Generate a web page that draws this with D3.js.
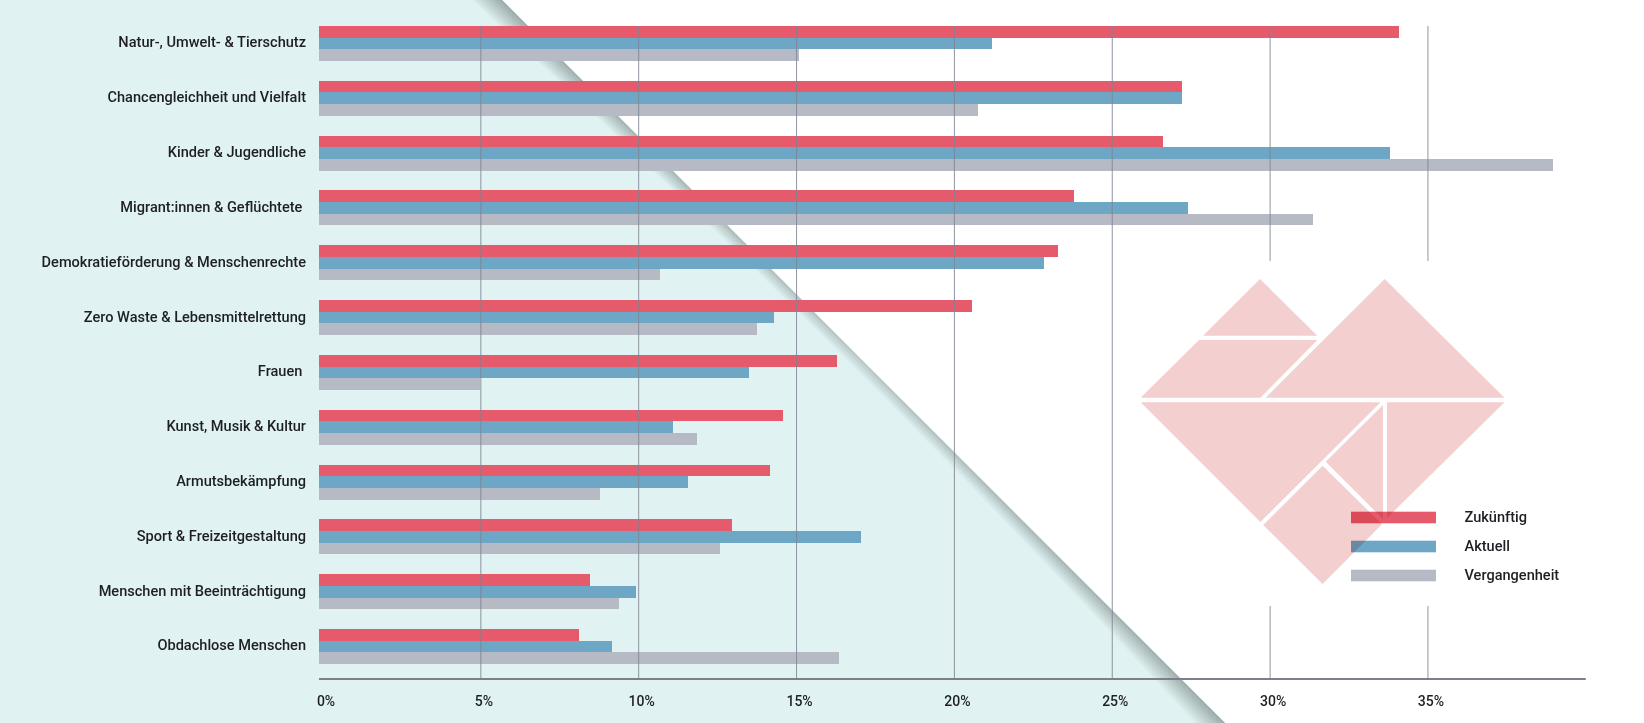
<!DOCTYPE html>
<html>
<head>
<meta charset="utf-8">
<script src="https://cdn.jsdelivr.net/npm/d3@7"></script>
<style>
    html, body { margin: 0; padding: 0; background: #fff; }
    svg { display: block; }
    text { font-family: Roboto, sans-serif; font-weight: 500; fill: #1e1e24; white-space: pre; }
</style>
</head>
<body>
<div id="chart"></div>
<script>
var categories = ["Natur-, Umwelt- & Tierschutz", "Chancengleichheit und Vielfalt", "Kinder & Jugendliche",
    "Migrant:innen & Geflüchtete ", "Demokratieförderung & Menschenrechte", "Zero Waste & Lebensmittelrettung",
    "Frauen ", "Kunst, Musik & Kultur", "Armutsbekämpfung", "Sport & Freizeitgestaltung",
    "Menschen mit Beeinträchtigung", "Obdachlose Menschen"];
var zukuenftig = [34.07, 27.2, 26.6, 23.78, 23.28, 20.56, 16.28, 14.58, 14.15, 12.95, 8.45, 8.1];
var aktuell = [21.19, 27.2, 33.8, 27.4, 22.85, 14.28, 13.48, 11.08, 11.56, 17.04, 9.93, 9.15];
var vergangenheit = [15.09, 20.75, 38.95, 31.35, 10.67, 13.75, 4.98, 11.86, 8.78, 12.59, 9.37, 16.34];
var seriesNames = ["Zukünftig", "Aktuell", "Vergangenheit"];
var seriesColors = ["#e55b6b", "#6ea7c6", "#b6bac4"];
var xTicks = [0, 5, 10, 15, 20, 25, 30, 35];

// tangram heart in the background, page pixels
var heartPieces = [
    [[1260, 279], [1203, 335.7], [1317.4, 335.7]],
    [[1199, 340], [1317.4, 340], [1260.4, 397.7], [1140.6, 397.7]],
    [[1384.7, 279], [1504.5, 397.7], [1265.6, 397.7]],
    [[1140.6, 402.3], [1380.6, 402.3], [1260.4, 522]],
    [[1383, 405], [1383, 519], [1325.7, 461.7]],
    [[1387, 402.3], [1504.5, 402.3], [1387, 518]],
    [[1322.6, 465.7], [1382, 524.3], [1322.6, 584], [1263.2, 525]]
];

var width = 1644, height = 723;
var axisY = 679, gridTop = 26;
var barLeft = 319; // bars and axis line start a bit left of the 0% position
var labelSize = 15.5, labelSqueeze = 0.94; // the original font is narrower than Roboto

var svg = d3.select("#chart").append("svg")
    .attr("width", width)
    .attr("height", height);

var x = d3.scaleLinear().domain([0, 40]).range([323, 1585.8]);
var y = d3.scaleBand().domain(categories).range([26, 664]).paddingInner(0.3615);
var ySeries = d3.scaleBand().domain(seriesNames).range([0, y.bandwidth()]);

// folded page: teal part with the shadow along the diagonal
var foldTop = 502, foldBottom = 1225;
svg.append("polygon")
    .attr("points", [[0, 0], [foldTop, 0], [foldBottom, height], [0, height]].join(" "))
    .attr("fill", "#e0f3f2");

// shadow is stronger at both ends of the fold than in the middle
var shadowGradient = svg.append("defs").append("linearGradient")
    .attr("id", "foldShadow")
    .attr("gradientUnits", "userSpaceOnUse")
    .attr("x1", foldTop).attr("y1", 0)
    .attr("x2", foldBottom).attr("y2", height);
shadowGradient.selectAll("stop")
    .data([[0, 1], [0.5, 0.55], [1, 1]])
    .enter()
    .append("stop")
    .attr("offset", function(d) { return d[0]; })
    .attr("stop-color", "#5a6464")
    .attr("stop-opacity", function(d) { return d[1]; });

var layers = d3.range(1, 21);
svg.append("g").selectAll("path")
    .data(layers)
    .enter()
    .append("path")
    .attr("d", function(d) {
        var k = Math.pow(d / 20, 1.4);
        var p = d3.path();
        p.moveTo(foldTop, 0);
        p.lineTo(foldBottom, height);
        p.lineTo(foldBottom - 30 * k, height);
        p.quadraticCurveTo((foldTop + foldBottom) / 2 - 2 * k, height / 2, foldTop - 30 * k, 0);
        p.closePath();
        return p.toString();
    })
    .attr("fill", "url(#foldShadow)")
    .attr("opacity", 0.037);

// bars
var allSeries = [zukuenftig, aktuell, vergangenheit];
var seriesGroups = svg.append("g").selectAll("g")
    .data(allSeries)
    .enter()
    .append("g")
    .attr("fill", function(d, i) { return seriesColors[i]; })
    .attr("shape-rendering", "crispEdges");

seriesGroups.each(function(values, s) {
    d3.select(this).selectAll("rect")
        .data(values)
        .enter()
        .append("rect")
        .attr("x", barLeft)
        .attr("y", function(d, i) { return Math.round(y(categories[i]) + ySeries(seriesNames[s])); })
        .attr("width", function(d) { return x(d) - barLeft; })
        .attr("height", function(d, i) {
            var top = y(categories[i]) + ySeries(seriesNames[s]);
            return Math.round(top + ySeries.bandwidth()) - Math.round(top);
        });
});

// gridlines
svg.append("g").selectAll("line")
    .data(xTicks.slice(1))
    .enter()
    .append("line")
    .attr("x1", function(d) { return x(d); })
    .attr("x2", function(d) { return x(d); })
    .attr("y1", gridTop)
    .attr("y2", axisY)
    .attr("stroke", "#7f8392")
    .attr("stroke-opacity", 0.85)
    .attr("stroke-width", 1);

// axis
var xAxis = d3.axisBottom(x)
    .tickValues(xTicks)
    .tickSize(0)
    .tickPadding(17)
    .tickFormat(function(d) { return d + "%"; });

var axisG = svg.append("g")
    .attr("transform", "translate(0," + axisY + ")")
    .call(xAxis);
axisG.select(".domain").remove();
axisG.selectAll("text")
    .attr("dx", 2.5)
    .style("font-size", "14px")
    .style("font-family", "Roboto, sans-serif");

svg.append("line")
    .attr("x1", barLeft)
    .attr("x2", x(40))
    .attr("y1", axisY)
    .attr("y2", axisY)
    .attr("stroke", "#7d7f8c")
    .attr("stroke-width", 2);

// white box behind the heart cuts the 30% and 35% lines
svg.append("rect")
    .attr("x", 1200)
    .attr("y", 261)
    .attr("width", width - 1200)
    .attr("height", 345)
    .attr("fill", "#fff");

svg.append("g").selectAll("polygon")
    .data(heartPieces)
    .enter()
    .append("polygon")
    .attr("points", function(d) { return d.join(" "); })
    .attr("fill", "#f4cfcf");

// category labels
svg.append("g").selectAll("text")
    .data(categories)
    .enter()
    .append("text")
    .attr("transform", function(d) {
        return "translate(306," + (y(d) + y.bandwidth() / 2 - 1.5) + ") scale(" + labelSqueeze + ",1)";
    })
    .attr("dy", "0.35em")
    .attr("text-anchor", "end")
    .style("font-size", labelSize + "px")
    .text(function(d) { return d; });

// legend
var legendY = d3.scalePoint().domain(seriesNames).range([517.5, 575.5]);
var legend = svg.append("g").selectAll("g")
    .data(seriesNames)
    .enter()
    .append("g")
    .attr("transform", function(d) { return "translate(0," + legendY(d) + ")"; });

legend.append("rect")
    .attr("x", 1351)
    .attr("y", -5.8)
    .attr("width", 85)
    .attr("height", 11.6)
    .attr("fill", function(d, i) { return seriesColors[i]; })
    .style("mix-blend-mode", "multiply");

legend.append("text")
    .attr("transform", "translate(1464.5,-0.7) scale(" + labelSqueeze + ",1)")
    .attr("dy", "0.35em")
    .style("font-size", labelSize + "px")
    .text(function(d) { return d; });
</script>
</body>
</html>
